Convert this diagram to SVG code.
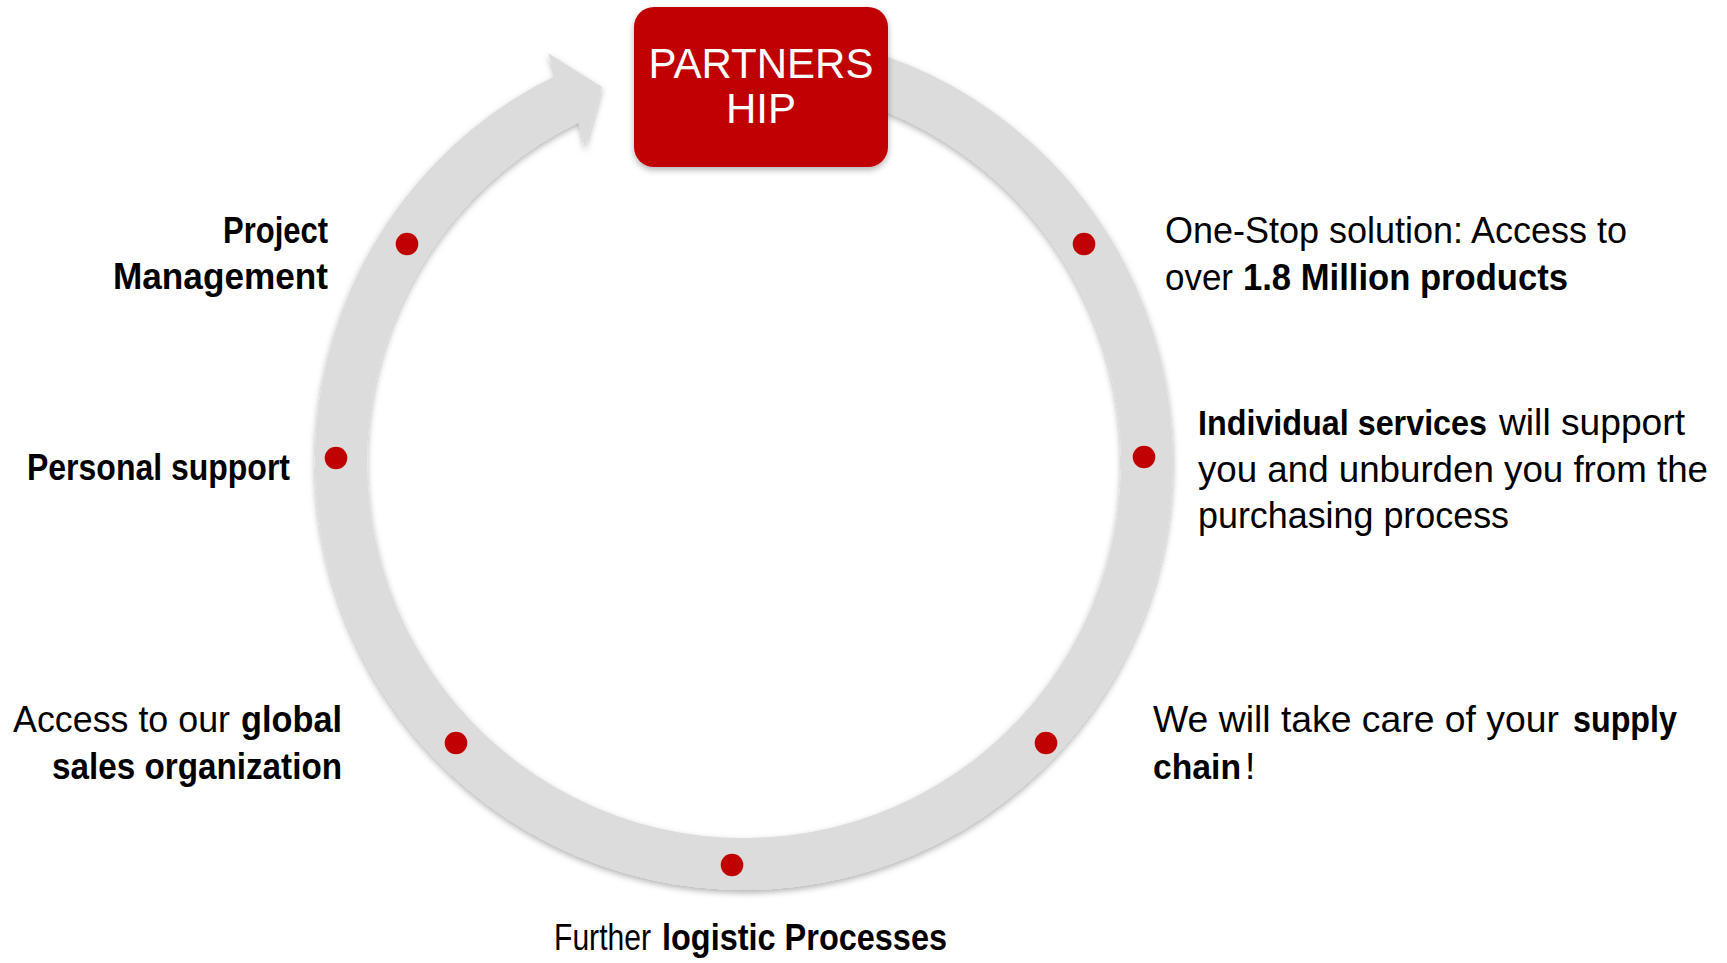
<svg xmlns="http://www.w3.org/2000/svg" width="1727" height="963" viewBox="0 0 1727 963">
<style>
.lbl{font-family:"Liberation Sans",Arial,sans-serif;font-size:37px;fill:#000}
.b{font-weight:bold}
.title{font-family:"Liberation Sans",Arial,sans-serif;font-size:42px;fill:#fff;text-anchor:middle}
.dot{fill:#C00000}
</style>
<defs>
<filter id="sh" x="-10%" y="-10%" width="120%" height="130%">
<feDropShadow dx="0" dy="3" stdDeviation="3" flood-color="#000" flood-opacity="0.3"/>
</filter>
</defs>
<rect width="1727" height="963" fill="#fff"/>
<g id="connectors">
<path filter="url(#sh)" fill="#DCDCDC" d="M 833.2 41.4 A 429 429 0 1 1 555.9 75.4 L 548 53 L 602 87 L 585 148 L 578.7 122.2 A 377 377 0 1 0 822.4 92.2 Z"/>
</g>
<g id="partnership">
<rect x="634" y="7" width="254" height="160" rx="20" fill="#C00000" filter="url(#sh)"/>
<text class="title" x="761" y="78">PARTNERS</text>
<text class="title" x="761" y="123">HIP</text>
</g>
<g id="dots">
<circle class="dot" cx="407" cy="244" r="11.3"/>
<circle class="dot" cx="336" cy="458" r="11.3"/>
<circle class="dot" cx="456" cy="743" r="11.3"/>
<circle class="dot" cx="732" cy="865" r="11.3"/>
<circle class="dot" cx="1046" cy="743" r="11.3"/>
<circle class="dot" cx="1144" cy="457" r="11.3"/>
<circle class="dot" cx="1084" cy="244" r="11.3"/>
</g>
<g id="project-management">
<text class="lbl b" x="223" y="243" textLength="105" lengthAdjust="spacingAndGlyphs">Project</text>
<text class="lbl b" x="113" y="289" textLength="215" lengthAdjust="spacingAndGlyphs">Management</text>
</g>
<g id="personal-support">
<text class="lbl b" x="27" y="480" textLength="263" lengthAdjust="spacingAndGlyphs">Personal support</text>
</g>
<g id="global-sales">
<text class="lbl" x="13" y="732" textLength="217" lengthAdjust="spacingAndGlyphs">Access to our</text>
<text class="lbl b" x="241" y="732" textLength="101" lengthAdjust="spacingAndGlyphs">global</text>
<text class="lbl b" x="52" y="779" textLength="290" lengthAdjust="spacingAndGlyphs">sales organization</text>
</g>
<g id="logistic-processes">
<text class="lbl" x="554" y="950" textLength="97" lengthAdjust="spacingAndGlyphs">Further</text>
<text class="lbl b" x="662" y="950" textLength="285" lengthAdjust="spacingAndGlyphs">logistic Processes</text>
</g>
<g id="supply-chain">
<text class="lbl" x="1153" y="732" textLength="406" lengthAdjust="spacingAndGlyphs">We will take care of your</text>
<text class="lbl b" x="1573" y="732" textLength="104" lengthAdjust="spacingAndGlyphs">supply</text>
<text class="lbl b" x="1153" y="779" style="font-size:35px" textLength="88" lengthAdjust="spacingAndGlyphs">chain</text>
<text class="lbl" x="1245" y="779">!</text>
</g>
<g id="individual-services">
<text class="lbl b" x="1198" y="435" style="font-size:34.5px" textLength="289" lengthAdjust="spacingAndGlyphs">Individual services</text>
<text class="lbl" x="1499" y="435" textLength="186" lengthAdjust="spacingAndGlyphs">will support</text>
<text class="lbl" x="1198" y="482" textLength="510" lengthAdjust="spacingAndGlyphs">you and unburden you from the</text>
<text class="lbl" x="1198" y="528" textLength="311" lengthAdjust="spacingAndGlyphs">purchasing process</text>
</g>
<g id="one-stop">
<text class="lbl" x="1165" y="243" textLength="462" lengthAdjust="spacingAndGlyphs">One-Stop solution: Access to</text>
<text class="lbl" x="1165" y="290" textLength="68" lengthAdjust="spacingAndGlyphs">over</text>
<text class="lbl b" x="1243" y="290" textLength="325" lengthAdjust="spacingAndGlyphs">1.8 Million products</text>
</g>
</svg>
